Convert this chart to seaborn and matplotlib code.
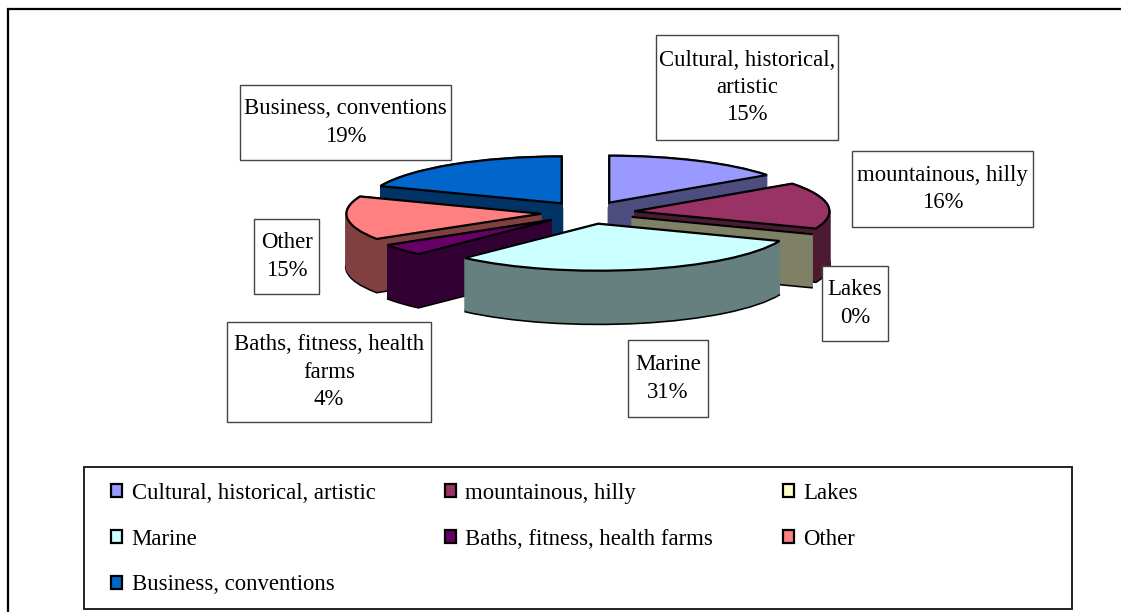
import numpy as np
import matplotlib
matplotlib.use('Agg')
import matplotlib.pyplot as plt
from matplotlib.patches import Rectangle
from matplotlib.colors import to_rgb
import seaborn as sns

# data
categories = ["Cultural, historical, artistic", "mountainous, hilly", "Lakes", "Marine",
              "Baths, fitness, health farms", "Other", "Business, conventions"]
box_labels = ["Cultural, historical,\nartistic", "mountainous, hilly", "Lakes", "Marine",
              "Baths, fitness, health\nfarms", "Other", "Business, conventions"]
shares = [15, 16, 0, 31, 4, 15, 19]
colors = ["#9999FF", "#993366", "#FFFFCC", "#CCFFFF", "#660066", "#FF8080", "#0066CC"]

W, H = 1121, 612
sns.set_theme(style="white")
plt.rcParams['font.family'] = ['Liberation Serif', 'DejaVu Serif']
plt.rcParams['text.color'] = 'black'
FS = 16.4

fig = plt.figure(figsize=(W / 100, H / 100), dpi=100)
fig.patch.set_facecolor('white')
ax = fig.add_axes([0, 0, 1, 1])

# pseudo-3D pie: top face squashed, extruded downwards layer by layer
px_x, px_y = 195.0, 47.0        # pixels per data unit
cx, cy = 588.0, 212.7           # pie centre (pixels from top-left)
depth = 53.0 / px_y
n_layers = 54
explode = [0.24] * len(shares)
side_colors = [tuple(c * 0.5 for c in to_rgb(col)) for col in colors]

# back-to-front drawing order from each wedge's mid angle
cum = np.cumsum([0] + shares[:-1])
mid = np.deg2rad(90 - 360 * (cum + np.array(shares) / 2) / sum(shares))
rank = np.argsort(np.argsort(-np.sin(mid)))

for k, t in enumerate(np.linspace(depth, 0, n_layers)):
    wedges, _ = ax.pie(shares, explode=explode, startangle=90, counterclock=False,
                       colors=side_colors, center=(0, -t), radius=1,
                       wedgeprops=dict(linewidth=1.3))
    for i, w in enumerate(wedges):
        if k == 0:
            w.set_edgecolor('black')
            w.set_linewidth(2.2)
        else:
            w.set_edgecolor(side_colors[i])
        w.set_zorder(rank[i] * 200 + k)

tops, _ = ax.pie(shares, explode=explode, startangle=90, counterclock=False,
                 colors=colors, center=(0, 0), radius=1,
                 wedgeprops=dict(linewidth=1.6, edgecolor='black'))
for i, w in enumerate(tops):
    w.set_zorder(rank[i] * 200 + 150)

ax.set_aspect('auto')
ax.set_xlim(-cx / px_x, (W - cx) / px_x)
ax.set_ylim(-(H - cy) / px_y, cy / px_y)
ax.axis('off')

# label boxes (pixel layout: x0, y0, x1, y1 from top-left)
label_boxes = [(656, 35, 838, 140), (852, 151, 1033, 227), (822, 266, 888, 341),
               (628, 340, 708, 417), (227, 322, 431, 422), (254, 219, 319, 294),
               (240, 85, 451, 160)]
for text, pct, (x0, y0, x1, y1) in zip(box_labels, shares, label_boxes):
    fig.patches.append(Rectangle((x0 / W, 1 - y1 / H), (x1 - x0) / W, (y1 - y0) / H,
                                 transform=fig.transFigure, facecolor='white',
                                 edgecolor='#444444', linewidth=1.0, zorder=5))
    fig.text((x0 + x1) / 2 / W, 1 - (y0 + y1) / 2 / H, f"{text}\n{pct}%",
             ha='center', va='center', fontsize=FS, linespacing=1.4, zorder=6,
             color='black')

# outer chart frame and legend frame
fig.patches.append(Rectangle((8 / W, -0.1), 1.2, 1 - 9 / H + 0.1, transform=fig.transFigure,
                             fill=False, edgecolor='black', linewidth=1.6, zorder=1))
fig.patches.append(Rectangle((84 / W, 1 - 609 / H), 988 / W, 142 / H,
                             transform=fig.transFigure, facecolor='white',
                             edgecolor='#222222', linewidth=1.4, zorder=2))

order = [0, 3, 6, 1, 4, 2, 5]
leg = fig.legend([tops[i] for i in order], [categories[i] for i in order],
                 ncol=3, loc='upper left', bbox_to_anchor=(111 / W, 1 - 483 / H),
                 frameon=False, fontsize=FS, handlelength=0.5, handleheight=0.5,
                 handletextpad=0.4, columnspacing=3.05, labelspacing=1.08,
                 borderpad=0, borderaxespad=0)
for t in leg.get_texts():
    t.set_color('black')
leg.set_zorder(10)

fig.savefig("out.png", dpi=100)
